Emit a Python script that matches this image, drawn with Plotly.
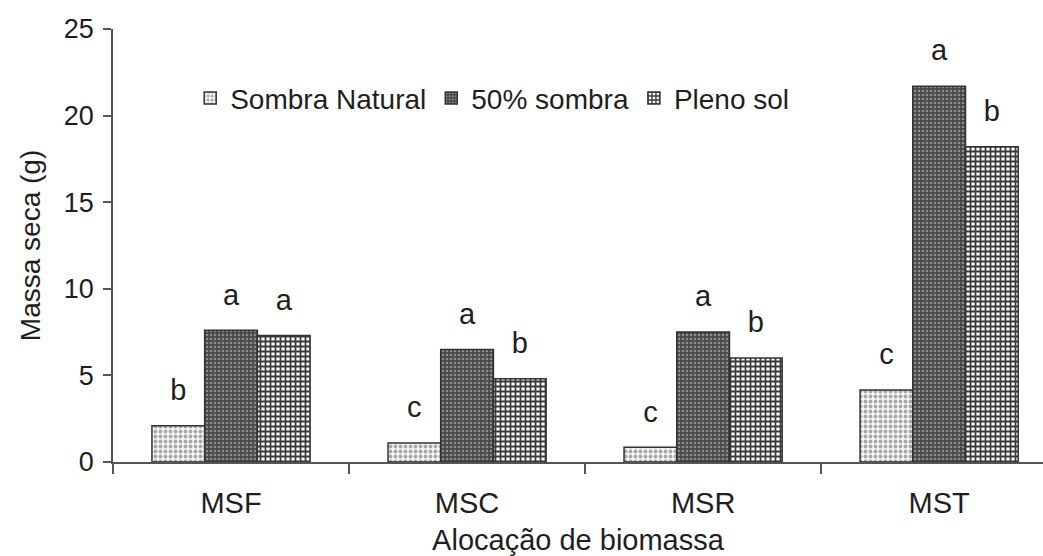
import plotly.graph_objects as go

categorias = ["MSF", "MSC", "MSR", "MST"]
sombra_natural = [2.1, 1.1, 0.85, 4.15]
sombra_50 = [7.6, 6.5, 7.5, 21.7]
pleno_sol = [7.3, 4.8, 6.0, 18.2]

letras_natural = ["b", "c", "c", "c"]
letras_50 = ["a", "a", "a", "a"]
letras_pleno = ["a", "b", "b", "b"]

serie_nomes = ["Sombra Natural", "50% sombra", "Pleno sol"]

FONTE = "Liberation Sans, Arial, sans-serif"
TXT = "#1e1e1e"

estilos = [
    dict(bgcolor="#f6f6f6", fgcolor="#a8a8a8", shape=".", size=5, solidity=0.45),
    dict(bgcolor="#474747", fgcolor="#8c8c8c", shape=".", size=4, solidity=0.35),
    dict(bgcolor="#ffffff", fgcolor="#3a3a3a", shape="+", size=5, solidity=0.58),
]

fig = go.Figure()
series = [sombra_natural, sombra_50, pleno_sol]
letras = [letras_natural, letras_50, letras_pleno]

for i, (nome, vals, est) in enumerate(zip(serie_nomes, series, estilos)):
    fig.add_trace(go.Bar(
        name=nome, x=categorias, y=vals, offsetgroup=str(i),
        marker=dict(color=est["bgcolor"], pattern=dict(fillmode="replace", **est),
                    line=dict(color="#333333", width=1.5)),
    ))

for i, (vals, lets) in enumerate(zip(series, letras)):
    fig.add_trace(go.Scatter(
        x=categorias, y=vals, text=lets, mode="markers+text", offsetgroup=str(i),
        textposition="top center", showlegend=False, hoverinfo="skip",
        marker=dict(size=28, opacity=0),
        textfont=dict(family=FONTE, size=29, color=TXT),
    ))

fig.update_layout(
    width=1043, height=556,
    margin=dict(l=113, r=0, t=29, b=94),
    plot_bgcolor="white", paper_bgcolor="white",
    barmode="group", bargap=0.33, bargroupgap=0,
    scattermode="group", scattergap=0.33,
    font=dict(family=FONTE, size=28, color=TXT),
    legend=dict(
        orientation="h", x=0.083, y=0.84, xanchor="left", yanchor="middle",
        font=dict(family=FONTE, size=28, color=TXT),
        bgcolor="rgba(0,0,0,0)", itemwidth=30, tracegroupgap=0,
    ),
    xaxis=dict(
        range=[-0.5, 3.44], showline=True, linecolor="#555", linewidth=1.5,
        ticks="outside", tickson="boundaries", ticklen=10, tickcolor="#555",
        tickwidth=1.5, showgrid=False, zeroline=False, ticklabelstandoff=14,
        tickfont=dict(family=FONTE, size=29, color=TXT),
        title=dict(text="Alocação de biomassa", standoff=14,
                   font=dict(family=FONTE, size=29, color=TXT)),
    ),
    yaxis=dict(
        range=[0, 25], dtick=5, showline=True, linecolor="#555", linewidth=1.5,
        ticks="outside", ticklen=8, tickcolor="#555", tickwidth=1.5,
        showgrid=False, zeroline=False, ticklabelstandoff=4,
        tickfont=dict(family=FONTE, size=27, color=TXT),
        title=dict(text="Massa seca (g)", standoff=15,
                   font=dict(family=FONTE, size=28, color=TXT)),
    ),
)

fig.write_html("out.html")
